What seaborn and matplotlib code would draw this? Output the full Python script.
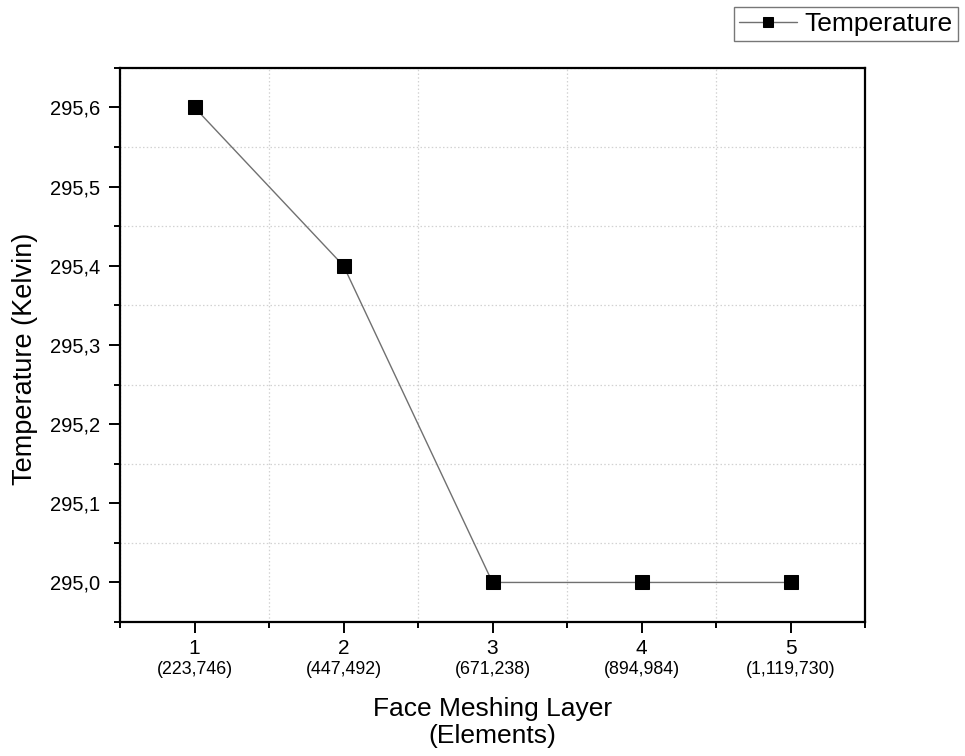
import matplotlib
matplotlib.use("Agg")
import matplotlib.pyplot as plt
import seaborn as sns
import pandas as pd
from matplotlib.ticker import MultipleLocator, FixedLocator, FuncFormatter

layers = [1, 2, 3, 4, 5]
elements = ["(223,746)", "(447,492)", "(671,238)", "(894,984)", "(1,119,730)"]
temperature = [295.6, 295.4, 295.0, 295.0, 295.0]
yticks = [295.0, 295.1, 295.2, 295.3, 295.4, 295.5, 295.6]

df = pd.DataFrame({"layer": layers, "Temperature": temperature})

sns.set_style("ticks")
plt.rcParams["font.family"] = ["Liberation Sans", "DejaVu Sans"]
plt.rcParams["text.color"] = "black"
plt.rcParams["axes.labelcolor"] = "black"

fig = plt.figure(figsize=(9.65, 7.56), dpi=100)
ax = fig.add_axes([0.1244, 0.1772, 0.772, 0.733])

sns.lineplot(data=df, x="layer", y="Temperature", ax=ax, color="#707070",
             linewidth=1.0, marker="s", markersize=9.5, markerfacecolor="black",
             markeredgecolor="black", label="Temperature")

ax.set_xlim(0.5, 5.5)
ax.set_ylim(294.95, 295.65)
ax.xaxis.set_major_locator(FixedLocator(layers))
ax.xaxis.set_minor_locator(MultipleLocator(0.5))
ax.yaxis.set_major_locator(FixedLocator(yticks))
ax.yaxis.set_minor_locator(MultipleLocator(0.05))
ax.xaxis.set_major_formatter(FuncFormatter(lambda v, p: f"{int(round(v))}"))
ax.yaxis.set_major_formatter(FuncFormatter(lambda v, p: f"{v:.1f}".replace(".", ",")))

ax.grid(False)
ax.grid(which="minor", color="#d2d2d2", linestyle=(0, (1.2, 1.8)), linewidth=0.9)

for s in ax.spines.values():
    s.set_visible(True)
    s.set_linewidth(1.6)
    s.set_color("black")

ax.tick_params(axis="both", which="major", direction="out", length=8, width=1.4,
               color="black", labelsize=14.5, labelcolor="black")
ax.tick_params(axis="both", which="minor", direction="out", length=4.5, width=1.4,
               color="black")
ax.tick_params(axis="x", which="major", pad=4, labelsize=15)
ax.tick_params(axis="y", which="major", pad=6)

for x, lab in zip(layers, elements):
    ax.text(x, -0.071, lab, transform=ax.get_xaxis_transform(), ha="center",
            va="top", fontsize=12.8, color="black")

ax.set_xlabel("Face Meshing Layer\n(Elements)", fontsize=19, labelpad=28,
              linespacing=1.2)
ax.set_ylabel("Temperature (Kelvin)", fontsize=19.5)
ax.yaxis.set_label_coords(-0.11, 0.475)

leg = ax.legend(loc="upper right", bbox_to_anchor=(0.993, 0.991),
                bbox_transform=fig.transFigure, borderaxespad=0, fontsize=19,
                frameon=True, fancybox=False, handlelength=2.2, borderpad=0.2,
                handletextpad=0.3, markerscale=0.8)
leg.get_frame().set_edgecolor("#555555")
leg.get_frame().set_linewidth(1.0)

fig.savefig("out.png", dpi=100, facecolor="white")
